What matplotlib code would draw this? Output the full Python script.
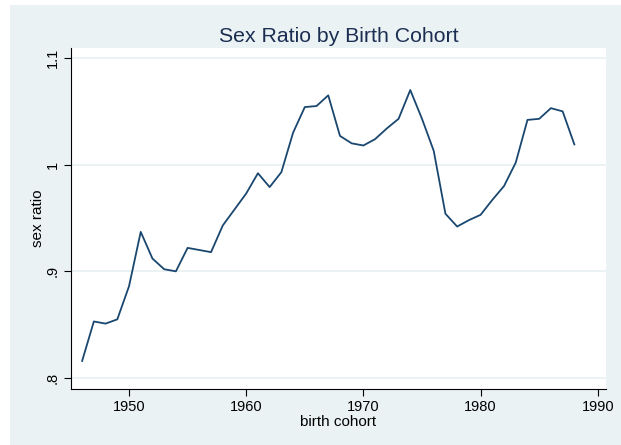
import matplotlib
matplotlib.use("Agg")
import matplotlib.pyplot as plt
from matplotlib.patches import Rectangle

# birth cohort and sex ratio
years = list(range(1946, 1989))
sex_ratio = [0.816, 0.853, 0.851, 0.855, 0.886, 0.937, 0.912, 0.902, 0.900,
             0.922, 0.920, 0.918, 0.943, 0.958, 0.973, 0.992, 0.979, 0.993,
             1.030, 1.054, 1.055, 1.065, 1.027, 1.020, 1.018, 1.024, 1.034,
             1.043, 1.070, 1.043, 1.013, 0.954, 0.942, 0.948, 0.953, 0.967,
             0.980, 1.002, 1.042, 1.043, 1.053, 1.050, 1.019]

x_ticks = [1950, 1960, 1970, 1980, 1990]
y_ticks = [0.8, 0.9, 1.0, 1.1]
y_tick_labels = ['.8', '.9', '1', '1.1']

bg = '#EAF2F3'
plt.rcParams['font.family'] = ['Liberation Sans', 'DejaVu Sans']

fig = plt.figure(figsize=(6.21, 4.45), dpi=100, facecolor='white')
# graph region (light bluish background with thin white border)
fig.patches.append(Rectangle((10 / 621, 0), 1 - 10 / 621, 1 - 5 / 445,
                             transform=fig.transFigure, facecolor=bg,
                             edgecolor='none', zorder=-1))

ax = fig.add_axes([71 / 621, 1 - 389 / 445, (606 - 71) / 621, (389 - 48) / 445])
ax.set_facecolor('white')
ax.plot(years, sex_ratio, color='#1A476F', linewidth=1.3)

ax.set_xlim(1945.05, 1990.7)
ax.set_ylim(0.7897, 1.1094)
ax.set_xticks(x_ticks)
ax.set_yticks(y_ticks)
ax.set_yticklabels(y_tick_labels, rotation=90, va='center')
ax.tick_params(axis='both', labelsize=10.5, length=5, width=0.8, color='black',
               labelcolor='black', pad=3)
ax.grid(axis='y', color=bg, linewidth=1.4)
ax.set_axisbelow(True)

for side in ['top', 'right']:
    ax.spines[side].set_visible(False)
for side in ['left', 'bottom']:
    ax.spines[side].set_linewidth(0.8)
    ax.spines[side].set_color('black')

ax.set_xlabel('birth cohort', fontsize=11, labelpad=1)
ax.set_ylabel('sex ratio', fontsize=11, labelpad=1)
ax.set_title('Sex Ratio by Birth Cohort', fontsize=15.3, color='#1C2D52', pad=4)

fig.savefig('out.png', dpi=100, facecolor=fig.get_facecolor())
